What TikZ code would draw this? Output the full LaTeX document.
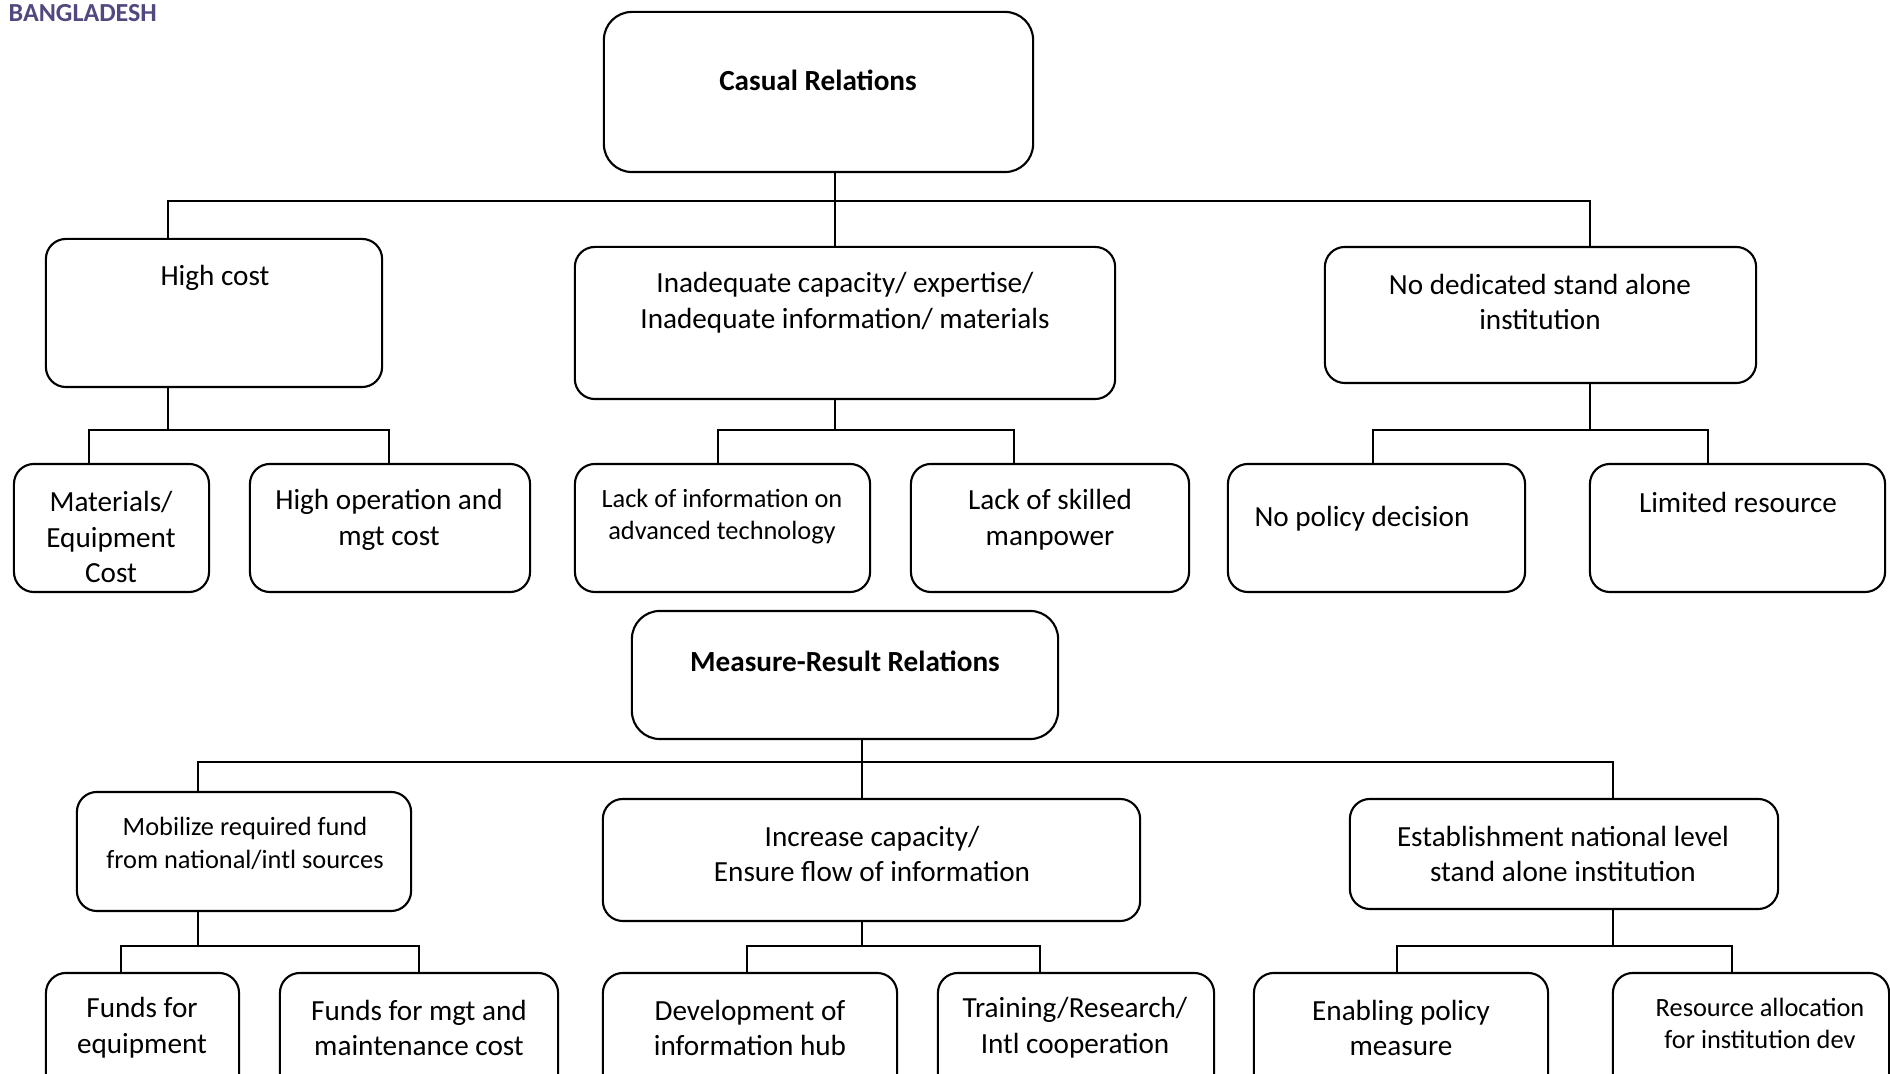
\documentclass[tikz,border=0pt]{standalone}
\usepackage{fontspec}
\setmainfont{Carlito}
\definecolor{titlepurple}{RGB}{82,72,128}
\tikzset{
  box/.style={draw, rounded corners=2mm, line width=0.6pt, inner sep=0pt},
  headbox/.style={box, rounded corners=2.8mm},
  lbl/.style={font=\fontsize{8.3}{10.2}\selectfont, align=center, inner sep=0pt, yshift=-0.03cm},
  smalllbl/.style={font=\fontsize{7.5}{9.2}\selectfont, align=center, inner sep=0pt, yshift=-0.025cm},
  headlbl/.style={font=\fontsize{8.3}{10.2}\selectfont\bfseries, align=center, inner sep=0pt},
  link/.style={line width=0.6pt}
}
\begin{document}
\begin{tikzpicture}[x=0.01cm, y=-0.01cm]
  \useasboundingbox (0,0) rectangle (1890,1074);
  \clip (0,0) rectangle (1890,1074);

  \node[anchor=west, inner sep=0pt, text=titlepurple,
        font=\fontsize{7.4}{9}\selectfont\bfseries] (country) at (8,13) {BANGLADESH};

  % causal relations
  \node[headbox, minimum width=4.29cm, minimum height=1.60cm] (casual) at (818.5,92) {};
  \node[headlbl] (tcasual) at (818,80) {Casual Relations};

  \node[box, minimum width=3.36cm, minimum height=1.48cm] (high) at (214,313) {};
  \node[lbl] (thigh) at (215,275) {High cost};
  \node[box, minimum width=5.40cm, minimum height=1.52cm] (inad) at (845,323) {};
  \node[lbl] (tinad) at (845,300) {Inadequate capacity/ expertise/\\Inadequate information/ materials};
  \node[box, minimum width=4.31cm, minimum height=1.36cm] (nodd) at (1540.5,315) {};
  \node[lbl] (tnodd) at (1540,299) {No dedicated stand alone\\institution};

  \node[box, minimum width=1.95cm, minimum height=1.28cm] (mat) at (111.5,528) {};
  \node[lbl] (tmat) at (111,534) {Materials/\\Equipment\\Cost};
  \node[box, minimum width=2.80cm, minimum height=1.28cm] (hop) at (390,528) {};
  \node[lbl] (thop) at (389,517) {High operation and\\mgt cost};
  \node[box, minimum width=2.95cm, minimum height=1.28cm] (lackinfo) at (722.5,528) {};
  \node[smalllbl] (tlackinfo) at (722,514) {Lack of information on\\advanced technology};
  \node[box, minimum width=2.78cm, minimum height=1.28cm] (lackskill) at (1050,528) {};
  \node[lbl] (tlackskill) at (1050,517) {Lack of skilled\\manpower};
  \node[box, minimum width=2.97cm, minimum height=1.28cm] (nopol) at (1376.5,528) {};
  \node[lbl] (tnopol) at (1362,516) {No policy decision};
  \node[box, minimum width=2.95cm, minimum height=1.28cm] (limres) at (1737.5,528) {};
  \node[lbl] (tlimres) at (1738,499) {Limited resource};

  \draw[link] (casual.south -| 835,0) -- (835,201) coordinate (cj);
  \draw[link] (high.north -| 168,0) |- (cj) -| (nodd.north -| 1590,0);
  \draw[link] (cj) -- (inad.north -| cj);
  \draw[link] (high.south -| 168,0) -- (168,430) coordinate (hj);
  \draw[link] (mat.north -| 89,0) |- (hj) -| (hop.north -| 389,0);
  \draw[link] (inad.south -| 835,0) -- (835,430) coordinate (ij);
  \draw[link] (lackinfo.north -| 718,0) |- (ij) -| (lackskill.north -| 1014,0);
  \draw[link] (nodd.south -| 1590,0) -- (1590,430) coordinate (nj);
  \draw[link] (nopol.north -| 1373,0) |- (nj) -| (limres.north -| 1708,0);

  % measure-result relations
  \node[headbox, minimum width=4.26cm, minimum height=1.28cm] (measure) at (845,675) {};
  \node[headlbl] (tmeasure) at (845,661) {Measure-Result Relations};

  \node[box, minimum width=3.34cm, minimum height=1.19cm] (mobil) at (244,851.5) {};
  \node[smalllbl] (tmobil) at (245,841) {Mobilize required fund\\from national/intl sources};
  \node[box, minimum width=5.37cm, minimum height=1.22cm] (incr) at (871.5,860) {};
  \node[lbl] (tincr) at (872,851) {Increase capacity/\\Ensure flow of information};
  \node[box, minimum width=4.28cm, minimum height=1.10cm] (estab) at (1564,854) {};
  \node[lbl] (testab) at (1563,851) {Establishment national level\\stand alone institution};

  \node[box, minimum width=1.93cm, minimum height=1.30cm] (fundeq) at (142.5,1038) {};
  \node[lbl] (tfundeq) at (142,1025) {Funds for\\equipment};
  \node[box, minimum width=2.78cm, minimum height=1.30cm] (fundmgt) at (419,1038) {};
  \node[lbl] (tfundmgt) at (419,1025) {Funds for mgt and\\maintenance cost};
  \node[box, minimum width=2.94cm, minimum height=1.30cm] (devhub) at (750,1038) {};
  \node[lbl] (tdevhub) at (750,1025) {Development of\\information hub};
  \node[box, minimum width=2.76cm, minimum height=1.30cm] (train) at (1076,1038) {};
  \node[lbl] (ttrain) at (1075,1025) {Training/Research/\\Intl cooperation};
  \node[box, minimum width=2.94cm, minimum height=1.30cm] (enab) at (1401,1038) {};
  \node[lbl] (tenab) at (1401,1025) {Enabling policy\\measure};
  \node[box, minimum width=2.76cm, minimum height=1.30cm] (resalloc) at (1751,1038) {};
  \node[smalllbl] (tresalloc) at (1760,1021) {Resource allocation\\for institution dev};

  \draw[link] (measure.south -| 862,0) -- (862,762) coordinate (mj);
  \draw[link] (mobil.north -| 198,0) |- (mj) -| (estab.north -| 1613,0);
  \draw[link] (mj) -- (incr.north -| mj);
  \draw[link] (mobil.south -| 198,0) -- (198,946) coordinate (fj);
  \draw[link] (fundeq.north -| 121,0) |- (fj) -| (fundmgt.north -| 419,0);
  \draw[link] (incr.south -| 862,0) -- (862,946) coordinate (dj);
  \draw[link] (devhub.north -| 747,0) |- (dj) -| (train.north -| 1040,0);
  \draw[link] (estab.south -| 1613,0) -- (1613,946) coordinate (ej);
  \draw[link] (enab.north -| 1397,0) |- (ej) -| (resalloc.north -| 1732,0);
\end{tikzpicture}
\end{document}
